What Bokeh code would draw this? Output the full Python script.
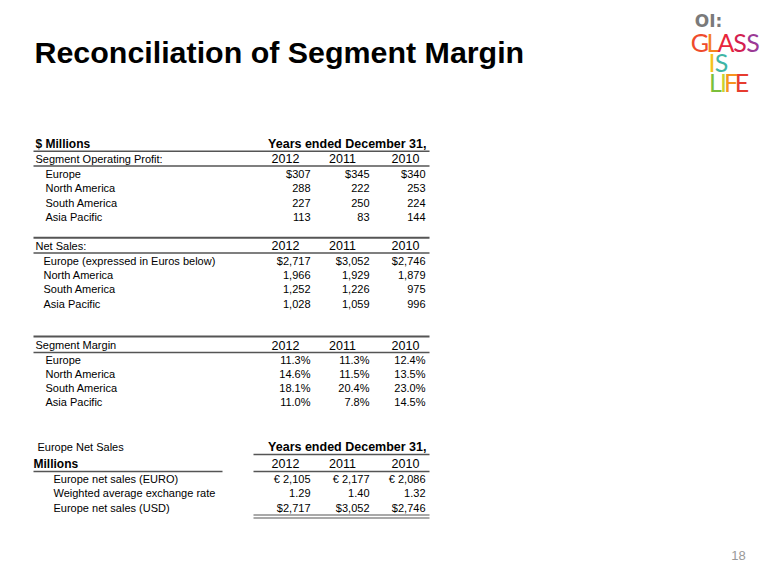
from bokeh.plotting import figure
from bokeh.models import Range1d
from bokeh.core.properties import value
from bokeh.embed import file_html
from bokeh.resources import INLINE

# ---------------- data ----------------
title = "Reconciliation of Segment Margin"
years = ["2012", "2011", "2010"]
regions = ["Europe", "North America", "South America", "Asia Pacific"]
netsales_labels = ["Europe (expressed in Euros below)", "North America", "South America", "Asia Pacific"]

op_2012 = [307, 288, 227, 113]
op_2011 = [345, 222, 250, 83]
op_2010 = [340, 253, 224, 144]

ns_2012 = [2717, 1966, 1252, 1028]
ns_2011 = [3052, 1929, 1226, 1059]
ns_2010 = [2746, 1879, 975, 996]

mg_2012 = [11.3, 14.6, 18.1, 11.0]
mg_2011 = [11.3, 11.5, 20.4, 7.8]
mg_2010 = [12.4, 13.5, 23.0, 14.5]

eu_labels = ["Europe net sales (EURO)", "Weighted average exchange rate", "Europe net sales (USD)"]
eu_euro = [2105, 2177, 2086]
eu_rate = [1.29, 1.40, 1.32]
eu_usd = [2717, 3052, 2746]

page_number = "18"

# ---------------- layout ----------------
FONT = value("Liberation Sans")
W, H = 764, 569
p = figure(width=W, height=H, x_range=Range1d(0, W), y_range=Range1d(H, 0),
           output_backend="svg", toolbar_location=None, min_border=0)
p.axis.visible = False
p.grid.visible = False
p.outline_line_color = None
p.background_fill_color = "white"
p.border_fill_color = "white"

LINE_C = "#555555"
XL, XR = 33, 429
LAB_X, SUB_X = 35, 45
VAL_R = [310, 369, 425]
YEAR_C = [285, 342, 405]


def txt(x, y, t, size="11px", bold=False, align="left", color="black", font=FONT, base="middle"):
    p.text(x=x if isinstance(x, list) else [x], y=y if isinstance(y, list) else [y],
           text=t if isinstance(t, list) else [t], text_align=align, text_baseline=base,
           text_font=font, text_font_size=size, text_font_style="bold" if bold else "normal",
           text_color=color)


def hline(y, x0=XL, x1=XR, w=1.5):
    p.segment(x0=[x0], y0=[y], x1=[x1], y1=[y], line_color=LINE_C, line_width=w)


def fmt_int(v):
    return f"{v:,}"


def section(header, hy, row_labels, cols, row_y0, step, sub_x=SUB_X):
    txt(LAB_X, hy, header)
    for i, yr in enumerate(years):
        txt(YEAR_C[i], hy, yr, size="12.5px", align="center")
    hline(hy + 7.5)
    ys = [row_y0 + k * step for k in range(len(row_labels))]
    txt([sub_x] * len(row_labels), ys, row_labels)
    for i, col in enumerate(cols):
        txt([VAL_R[i]] * len(col), ys, col, align="right")


# title
txt(34, 51, title, size="30.4px", bold=True)

# table 1 header
txt(LAB_X, 143, "$ Millions", size="12px", bold=True)
txt(426, 143, "Years ended December 31,", size="12.5px", bold=True, align="right")
hline(150.7)

# segment operating profit
op_cols = []
for col in (op_2012, op_2011, op_2010):
    op_cols.append([("$" if k == 0 else "") + fmt_int(v) for k, v in enumerate(col)])
section("Segment Operating Profit:", 158, regions, op_cols, 173, 14.5)

# net sales
hline(237.3, w=2)
ns_cols = []
for col in (ns_2012, ns_2011, ns_2010):
    ns_cols.append([("$" if k == 0 else "") + fmt_int(v) for k, v in enumerate(col)])
section("Net Sales:", 245, netsales_labels, ns_cols, 260, 14.4, sub_x=43)

# segment margin
hline(336, w=2)
mg_cols = [[f"{v:.1f}%" for v in col] for col in (mg_2012, mg_2011, mg_2010)]
section("Segment Margin", 344.5, regions, mg_cols, 359, 14.2)

# europe net sales table
txt(37, 446, "Europe Net Sales")
txt(426, 446, "Years ended December 31,", size="12.5px", bold=True, align="right")
hline(454, x0=253)
txt(33, 463, "Millions", size="12px", bold=True)
for i, yr in enumerate(years):
    txt(YEAR_C[i], 463, yr, size="12.5px", align="center")
hline(471, x0=33, x1=222)
hline(471, x0=253)
ys4 = [478, 492.5, 507]
txt([53] * 3, ys4, eu_labels)
for i in range(3):
    colvals = [f"\u20ac {eu_euro[i]:,}", f"{eu_rate[i]:.2f}", f"${eu_usd[i]:,}"]
    txt([VAL_R[i]] * 3, ys4, colvals, align="right")
hline(514.5, x0=253, w=1.2)
hline(517.5, x0=253, w=1.2)

# page number
txt(738, 555, page_number, size="13px", align="center", color="#999999")

# logo
LOGO_FONT = value("Lato")
txt(708, 20, "OI:", size="17px", bold=True, align="center", color="#7a7a7a", font=value("DejaVu Sans"))
for ch, x, c in [("G", 699.5, "#ef4b2c"), ("L", 712.5, "#f5821f"), ("A", 725.5, "#e8263b"),
                 ("S", 739.5, "#d4204f"), ("S", 752.5, "#9b3a96")]:
    txt(x, 41, ch, size="25px", align="center", color=c, font=LOGO_FONT)
for ch, x, c in [("I", 711.5, "#f6c21c"), ("S", 721, "#3fb5a6")]:
    txt(x, 61, ch, size="25px", align="center", color=c, font=LOGO_FONT)
for ch, x, c in [("L", 715, "#7bbf3b"), ("I", 723, "#c9d22e"), ("F", 730.5, "#f7941d"), ("E", 741.5, "#e63c2f")]:
    txt(x, 81, ch, size="25px", align="center", color=c, font=LOGO_FONT)

open("out.html", "w").write(file_html(p, INLINE))
